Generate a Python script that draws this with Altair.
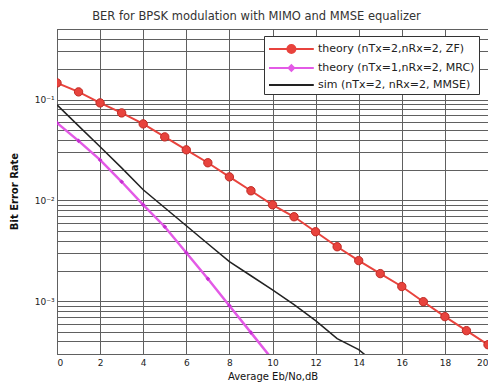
import altair as alt
import pandas as pd

# ---- data ----
snr_zf = list(range(0, 21))
ber_zf = [0.146, 0.119, 0.0925, 0.0736, 0.0573, 0.0426, 0.0317, 0.0236, 0.0171,
          0.01245, 0.00904, 0.00688, 0.00489, 0.00347, 0.00253, 0.00188, 0.00140,
          0.00099, 0.000704, 0.000511, 0.000371]
snr_mrc = list(range(0, 11))
ber_mrc = [0.0586, 0.0389, 0.0252, 0.0153, 0.00904, 0.00548, 0.00303, 0.00167,
           0.000904, 0.000489, 0.000264]
snr_sim = list(range(0, 16))
ber_mmse = [0.0885, 0.0548, 0.0340, 0.0210, 0.01274, 0.00845, 0.00561, 0.00372,
            0.00247, 0.00179, 0.00130, 0.000925, 0.000642, 0.000426, 0.000332, 0.000220]

series_names = ["theory (nTx=2,nRx=2, ZF)", "theory (nTx=1,nRx=2, MRC)",
                "sim (nTx=2, nRx=2, MMSE)"]
colors = ["#e8433d", "#e35ae6", "#222222"]
widths = [2, 2.5, 1.5]

x_ticks = [0, 2, 4, 6, 8, 10, 12, 14, 16, 18, 20]
y_grid = [0.0003, 0.0004, 0.0005, 0.0006, 0.0007, 0.0008, 0.0009,
          0.001, 0.002, 0.003, 0.004, 0.005, 0.006, 0.007, 0.008, 0.009,
          0.01, 0.02, 0.03, 0.04, 0.05, 0.06, 0.07, 0.08, 0.09,
          0.1, 0.2, 0.3, 0.4, 0.5]
decade_vals = [0.001, 0.01, 0.1]
decade_labels = ["10⁻³", "10⁻²", "10⁻¹"]

rows = []
for s, xs, ys in zip(series_names, [snr_zf, snr_mrc, snr_sim], [ber_zf, ber_mrc, ber_mmse]):
    for a, b in zip(xs, ys):
        rows.append({"snr": a, "ber": b, "series": s})
df = pd.DataFrame(rows)

label_expr = " : ".join(
    f"datum.value == {v} ? '{l}'" for v, l in zip(decade_vals, decade_labels)
) + " : ''"

# legend symbols: line sample with the marker in the middle
line_path = "M-1,0H4.6"
circ_path = "M-1,0H4.6M2.3,0A0.5,0.5,0,1,1,1.3,0A0.5,0.5,0,1,1,2.3,0Z"
dia_path = "M-1,0H4.6M1.8,-0.35L2.15,0L1.8,0.35L1.45,0Z"
legend_shapes = [circ_path, dia_path, line_path]


def make_legend():
    return alt.Legend(
        title=None, orient="none", legendX=207, legendY=7,
        fillColor="white", strokeColor="#333", padding=4,
        symbolSize=256, symbolStrokeWidth=2, symbolOpacity=1,
        labelOffset=32, labelFontSize=11, labelFont="DejaVu Sans",
        labelColor="#222", labelLimit=300, rowPadding=1)


x_enc = alt.X("snr:Q", scale=alt.Scale(domain=[0, 20], nice=False),
              axis=alt.Axis(values=x_ticks, title="Average Eb/No,dB", labelPadding=4,
                            titlePadding=4, titleFontWeight="normal"))
y_enc = alt.Y("ber:Q", scale=alt.Scale(type="log", domain=[0.0003, 0.5], nice=False),
              axis=alt.Axis(values=y_grid, labelExpr=label_expr, title="Bit Error Rate",
                            labelPadding=3, titleX=-43, titleY=162, titleAngle=270,
                            titleBaseline="middle", titleAlign="center",
                            titleFontWeight="bold"))

layers = []
for name, col, w in zip(series_names, colors, widths):
    layers.append(
        alt.Chart(df).transform_filter(alt.datum.series == name)
        .mark_line(clip=True, color=col, strokeWidth=w)
        .encode(x=x_enc, y=y_enc)
    )

pts_zf = alt.Chart(df).transform_filter(
    alt.datum.series == series_names[0]
).mark_point(shape="circle", filled=True, size=70, fill=colors[0], stroke="#c02a24",
             strokeWidth=1, opacity=1, clip=True).encode(x=x_enc, y=y_enc)

pts_mrc = alt.Chart(df).transform_filter(
    alt.datum.series == series_names[1]
).mark_point(shape="diamond", filled=True, size=22, fill="#c52fd0", opacity=1,
             clip=True).encode(x=x_enc, y=y_enc)

# layer that only carries the legend (its marks sit outside the clipped plot)
legend_layer = alt.Chart(df).mark_point(
    size=256, strokeWidth=2, opacity=1, clip=True
).encode(
    x=alt.value(-200), y=alt.value(-200),
    fill=alt.Fill("series:N", scale=alt.Scale(domain=series_names, range=colors),
                  legend=make_legend()),
    stroke=alt.Stroke("series:N", scale=alt.Scale(domain=series_names, range=colors),
                      legend=make_legend()),
    shape=alt.Shape("series:N", scale=alt.Scale(domain=series_names, range=legend_shapes),
                    legend=make_legend()),
)

chart = alt.layer(*layers, pts_zf, pts_mrc, legend_layer).properties(
    width=431, height=325,
    autosize="none",
    background="white",
    padding={"left": 49, "top": 21, "right": 0, "bottom": 30},
    title=alt.Title("BER for BPSK modulation with MIMO and MMSE equalizer",
                    fontSize=11.5, font="DejaVu Sans", fontWeight="normal",
                    color="#333", offset=7, dx=-16),
).configure_view(stroke="#444", strokeWidth=1).configure_axis(
    grid=True, gridColor="#606060", gridOpacity=1, gridWidth=1,
    domain=False, ticks=False, tickSize=0,
    labelFont="DejaVu Sans", labelFontSize=9, labelColor="#222",
    titleFont="DejaVu Sans", titleFontSize=10, titleColor="#111",
)

chart.save("out.html", embed_options={"renderer": "svg", "actions": False})
